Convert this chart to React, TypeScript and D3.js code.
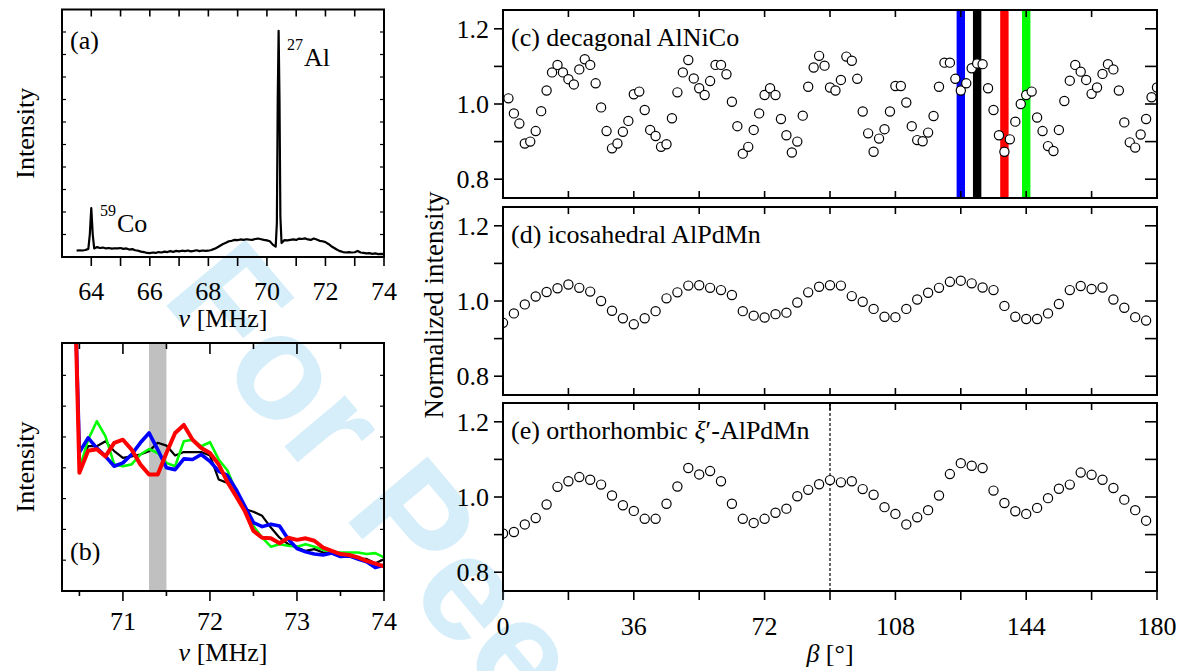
import React from 'react';
import * as d3 from 'd3';

const W = 1185, H = 671;
const FONT = "'Liberation Serif','Times New Roman',Times,serif";

// ---------- Panel (a): full spectrum ----------
const nuA = [63.5,63.6,63.7,63.8,63.9,63.95,64.0,64.05,64.1,64.2,64.3,64.4,64.5,64.6,64.7,64.8,64.9,65.0,65.1,65.2,65.3,65.4,65.5,65.6,65.7,65.8,65.9,66.0,66.1,66.2,66.3,66.4,66.5,66.6,66.7,66.8,66.9,67.0,67.1,67.2,67.3,67.4,67.5,67.6,67.7,67.8,67.9,68.0,68.1,68.2,68.3,68.4,68.5,68.6,68.7,68.8,68.9,69.0,69.1,69.2,69.3,69.4,69.5,69.6,69.7,69.8,69.9,70.0,70.1,70.2,70.3,70.34,70.37,70.4,70.43,70.46,70.5,70.6,70.7,70.8,70.9,71.0,71.1,71.2,71.3,71.4,71.5,71.6,71.7,71.8,71.9,72.0,72.1,72.2,72.3,72.4,72.5,72.6,72.7,72.8,72.9,73.0,73.1,73.2,73.3,73.4,73.5,73.6,73.7,73.8,73.9,74.0];
const intA = [0.28,0.30,0.29,0.31,0.36,1.0,2.17,1.0,0.38,0.44,0.40,0.42,0.38,0.40,0.37,0.39,0.38,0.40,0.36,0.38,0.33,0.35,0.30,0.28,0.24,0.22,0.18,0.17,0.20,0.18,0.22,0.20,0.24,0.22,0.26,0.23,0.27,0.25,0.28,0.26,0.29,0.25,0.27,0.30,0.26,0.29,0.27,0.28,0.31,0.36,0.42,0.50,0.58,0.63,0.70,0.72,0.76,0.75,0.78,0.76,0.79,0.77,0.76,0.80,0.82,0.79,0.76,0.74,0.70,0.55,0.46,1.5,7.0,10.05,7.0,1.8,0.62,0.75,0.74,0.76,0.78,0.76,0.82,0.80,0.83,0.78,0.76,0.82,0.78,0.72,0.70,0.66,0.58,0.48,0.40,0.32,0.26,0.22,0.20,0.22,0.20,0.21,0.27,0.20,0.18,0.16,0.17,0.14,0.16,0.13,0.14,0.13];
const xTicksA = [64,65,66,67,68,69,70,71,72,73,74];
const xLabelsA = [64,66,68,70,72,74];
const yTicksA = [1,2,3,4,5,6,7,8,9,10];

// ---------- Panel (b): zoomed spectra ----------
const nuB = [70.45,70.5,70.6,70.7,70.8,70.9,71.0,71.1,71.2,71.3,71.4,71.5,71.6,71.7,71.8,71.9,72.0,72.1,72.2,72.3,72.4,72.5,72.6,72.7,72.8,72.9,73.0,73.1,73.2,73.3,73.4,73.5,73.6,73.7,73.8,73.9,74.0];
const bBlack = [9.5,4.05,4.70,4.70,4.86,4.54,4.32,4.37,4.43,4.54,4.81,4.72,4.40,4.51,4.51,4.51,4.40,3.62,3.51,3.14,2.66,2.57,2.44,2.06,1.73,1.52,1.41,1.30,1.36,1.25,1.25,1.20,1.12,1.05,1.04,0.90,1.03];
const bGreen = [9.5,3.94,4.91,5.51,5.02,4.11,4.05,4.11,4.43,4.61,4.48,4.16,4.05,4.86,4.91,4.70,4.83,4.27,3.92,3.24,2.76,2.11,1.73,1.44,1.52,1.47,1.44,1.52,1.44,1.34,1.27,1.25,1.25,1.25,1.20,1.23,1.09];
const bBlue = [9.5,4.50,4.97,4.64,4.37,4.05,4.16,4.43,4.81,5.13,4.59,4.00,3.94,4.29,4.27,4.43,4.21,3.89,3.75,3.30,2.76,2.22,2.09,2.17,2.11,1.68,1.38,1.27,1.20,1.17,1.23,1.12,1.14,1.04,0.95,0.76,0.84];
const bRed = [9.5,3.84,4.55,4.60,4.37,4.81,4.91,4.59,4.11,3.78,3.78,4.48,5.13,5.39,4.91,4.64,4.48,4.11,3.54,3.08,2.60,1.95,1.73,1.71,1.55,1.73,1.66,1.71,1.63,1.41,1.30,1.20,1.17,1.09,0.98,0.89,0.80];
const bandB = [71.3, 71.5];
const xMajorB = [71,72,73,74];
const xMinorB = [70.5,71.5,72.5,73.5];
const yTicksB = [1,2,3,4,5,6,7];

// ---------- Panels (c)-(e): angular dependence ----------
const betaC = [1.5,3,4.5,6,7.5,9,10.5,12,13.5,15,16.5,18,19.5,21,22.5,24,25.5,27,28.5,30,31.5,33,34.5,36,37.5,39,40.5,42,43.5,45,46.5,48,49.5,51,52.5,54,55.5,57,58.5,60,61.5,63,64.5,66,67.5,69,70.5,72,73.5,75,76.5,78,79.5,81,82.5,84,85.5,87,88.5,90,91.5,93,94.5,96,97.5,99,100.5,102,103.5,105,106.5,108,109.5,111,112.5,114,115.5,117,118.5,120,121.5,123,124.5,126,127.5,129,130.5,132,133.5,135,136.5,138,139.5,141,142.5,144,145.5,147,148.5,150,151.5,153,154.5,156,157.5,159,160.5,162,163.5,165,166.5,168,169.5,171,172.5,174,175.5,177,178.5,180];
const valC = [1.015,0.975,0.948,0.895,0.900,0.928,0.981,1.036,1.084,1.104,1.084,1.066,1.052,1.092,1.119,1.104,1.055,0.991,0.928,0.882,0.895,0.926,0.955,1.026,1.033,0.984,0.931,0.915,0.886,0.893,0.962,1.031,1.084,1.117,1.068,1.042,1.024,1.061,1.104,1.104,1.079,1.006,0.941,0.868,0.886,0.931,0.975,1.024,1.042,1.024,0.960,0.917,0.871,0.900,0.969,1.046,1.097,1.128,1.102,1.044,1.036,1.064,1.126,1.115,1.067,0.980,0.922,0.873,0.908,0.933,0.980,1.048,1.048,1.004,0.941,0.904,0.901,0.924,0.968,1.046,1.110,1.110,1.067,1.036,1.055,1.095,1.108,1.106,1.042,0.984,0.917,0.873,0.906,0.953,1.000,1.024,1.033,0.964,0.928,0.888,0.875,0.931,1.008,1.062,1.104,1.086,1.064,1.027,1.044,1.080,1.106,1.092,1.036,0.951,0.898,0.884,0.919,0.960,1.018,1.044];
const markerBeta = [126, 130.5, 138, 144];
const markerColor = ['#0000ff', '#000000', '#ff0000', '#00ff00'];

const betaDE = [0,3,6,9,12,15,18,21,24,27,30,33,36,39,42,45,48,51,54,57,60,63,66,69,72,75,78,81,84,87,90,93,96,99,102,105,108,111,114,117,120,123,126,129,132,135,138,141,144,147,150,153,156,159,162,165,168,171,174,177];
const valD = [0.942,0.967,0.991,1.012,1.024,1.034,1.044,1.035,1.025,1.000,0.974,0.954,0.938,0.954,0.973,1.007,1.023,1.041,1.042,1.035,1.029,1.016,0.973,0.961,0.956,0.965,0.969,0.996,1.023,1.038,1.042,1.041,1.013,0.998,0.979,0.958,0.957,0.979,1.004,1.022,1.035,1.051,1.054,1.047,1.036,1.029,0.987,0.958,0.952,0.952,0.967,0.992,1.029,1.040,1.032,1.036,1.004,0.982,0.957,0.948];
const valE = [0.903,0.907,0.927,0.944,0.980,1.027,1.042,1.053,1.046,1.033,1.004,0.978,0.963,0.942,0.942,0.982,1.028,1.077,1.060,1.069,1.042,0.982,0.942,0.931,0.942,0.958,0.969,1.002,1.019,1.034,1.045,1.039,1.042,1.021,1.006,0.973,0.955,0.927,0.946,0.965,1.004,1.061,1.090,1.083,1.077,1.017,0.984,0.962,0.955,0.971,0.997,1.022,1.033,1.065,1.059,1.046,1.024,0.993,0.965,0.937];
const dashBetaE = 90;

const betaTicks = [0,18,36,54,72,90,108,126,144,162,180];
const betaLabels = [0,36,72,108,144,180];
const normTicks = [0.8,0.9,1.0,1.1,1.2];
const normLabels = ['0.8','1.0','1.2'];

// ---------- geometry ----------
const PA = { l: 62, r: 384, t: 9.5, b: 257 };
const PB = { l: 62, r: 384, t: 343, b: 591 };
const RL = 503, RR = 1157;
const PC = { t: 10, b: 198 };
const PD = { t: 207, b: 395 };
const PE = { t: 403, b: 591 };

const xA = d3.scaleLinear().domain([63, 74]).range([PA.l, PA.r]);
const yA = d3.scaleLinear().domain([0, 11]).range([PA.b, PA.t]);
const xB = d3.scaleLinear().domain([70.3, 74]).range([PB.l, PB.r]);
const yB = d3.scaleLinear().domain([0, 8.05]).range([PB.b, PB.t]);
const xBeta = d3.scaleLinear().domain([0, 180]).range([RL, RR]);
const yNorm = (p: { t: number; b: number }) => d3.scaleLinear().domain([0.75, 1.25]).range([p.b, p.t]);

const lineA = d3.line<number>().x((_, i) => xA(nuA[i])).y((d) => yA(d));
const lineB = d3.line<number>().x((_, i) => xB(nuB[i])).y((d) => yB(d));

const FS = 26;

function Watermark() {
  return (
    <svg x={0} y={0} width={W} height={H} overflow="hidden">
      <text
        x={0}
        y={0}
        transform="translate(160,298) rotate(50)"
        fontFamily="'Liberation Sans', Arial, sans-serif"
        fontWeight="bold"
        fontSize={150}
        fill="#d6eefa"
      >
        For Peer
      </text>
    </svg>
  );
}

function PanelA() {
  return (
    <g>
      <defs>
        <clipPath id="clipA"><rect x={PA.l} y={PA.t} width={PA.r - PA.l} height={PA.b - PA.t} /></clipPath>
      </defs>
      <path d={lineA(intA) || ''} fill="none" stroke="#000" strokeWidth={2.2} strokeLinejoin="round" clipPath="url(#clipA)" />
      {xTicksA.map((t) => (
        <g key={t}>
          <line x1={xA(t)} x2={xA(t)} y1={PA.b} y2={PA.b + 9} stroke="#000" strokeWidth={1.6} />
          <line x1={xA(t)} x2={xA(t)} y1={PA.t} y2={PA.t + 7} stroke="#000" strokeWidth={1.6} />
        </g>
      ))}
      {yTicksA.map((t) => (
        <g key={t}>
          <line x1={PA.l} x2={PA.l + 4} y1={yA(t)} y2={yA(t)} stroke="#000" strokeWidth={1.2} />
          <line x1={PA.r - 4} x2={PA.r} y1={yA(t)} y2={yA(t)} stroke="#000" strokeWidth={1.2} />
        </g>
      ))}
      {xLabelsA.map((t) => (
        <text key={t} x={xA(t)} y={300} textAnchor="middle" fontSize={FS}>{t}</text>
      ))}
      <rect x={PA.l} y={PA.t} width={PA.r - PA.l} height={PA.b - PA.t} fill="none" stroke="#000" strokeWidth={2} />
      <text x={70} y={49} fontSize={FS}>(a)</text>
      <text x={100} y={216} fontSize={16}>59</text>
      <text x={117} y={232} fontSize={FS}>Co</text>
      <text x={287} y={50} fontSize={16}>27</text>
      <text x={304} y={66} fontSize={FS}>Al</text>
      <text transform={`translate(34,${(PA.t + PA.b) / 2}) rotate(-90)`} textAnchor="middle" fontSize={FS}>Intensity</text>
      <text x={(PA.l + PA.r) / 2} y={327} textAnchor="middle" fontSize={FS}>
        <tspan fontStyle="italic">ν</tspan> [MHz]
      </text>
    </g>
  );
}

function PanelB() {
  const series = [
    { v: bBlack, c: '#000000', w: 2.2 },
    { v: bGreen, c: '#00ff00', w: 2.6 },
    { v: bBlue, c: '#0000ff', w: 3.6 },
    { v: bRed, c: '#ff0000', w: 4 },
  ];
  return (
    <g>
      <defs>
        <clipPath id="clipB"><rect x={PB.l} y={PB.t} width={PB.r - PB.l} height={PB.b - PB.t} /></clipPath>
      </defs>
      <rect x={xB(bandB[0])} y={PB.t} width={xB(bandB[1]) - xB(bandB[0])} height={PB.b - PB.t} fill="#c0c0c0" />
      <g clipPath="url(#clipB)">
        {series.map((s, i) => (
          <path key={i} d={lineB(s.v) || ''} fill="none" stroke={s.c} strokeWidth={s.w} strokeLinejoin="round" />
        ))}
      </g>
      {xMajorB.map((t) => (
        <g key={t}>
          <line x1={xB(t)} x2={xB(t)} y1={PB.b} y2={PB.b + 10} stroke="#000" strokeWidth={1.6} />
          <line x1={xB(t)} x2={xB(t)} y1={PB.t} y2={PB.t + 11} stroke="#000" strokeWidth={1.6} />
          <text x={xB(t)} y={630} textAnchor="middle" fontSize={FS}>{t}</text>
        </g>
      ))}
      {xMinorB.map((t) => (
        <g key={t}>
          <line x1={xB(t)} x2={xB(t)} y1={PB.b} y2={PB.b + 5} stroke="#000" strokeWidth={1.6} />
          <line x1={xB(t)} x2={xB(t)} y1={PB.t} y2={PB.t + 6} stroke="#000" strokeWidth={1.6} />
        </g>
      ))}
      {yTicksB.map((t) => (
        <g key={t}>
          <line x1={PB.l} x2={PB.l + 4} y1={yB(t)} y2={yB(t)} stroke="#000" strokeWidth={1.2} />
          <line x1={PB.r - 4} x2={PB.r} y1={yB(t)} y2={yB(t)} stroke="#000" strokeWidth={1.2} />
        </g>
      ))}
      <rect x={PB.l} y={PB.t} width={PB.r - PB.l} height={PB.b - PB.t} fill="none" stroke="#000" strokeWidth={2} />
      <text x={70} y={560} fontSize={FS}>(b)</text>
      <text transform={`translate(34,${(PB.t + PB.b) / 2}) rotate(-90)`} textAnchor="middle" fontSize={FS}>Intensity</text>
      <text x={(PB.l + PB.r) / 2} y={661} textAnchor="middle" fontSize={FS}>
        <tspan fontStyle="italic">ν</tspan> [MHz]
      </text>
    </g>
  );
}

function AngPanel(props: {
  id: string; p: { t: number; b: number }; betas: number[]; vals: number[];
  title: React.ReactNode; bottomOut: boolean; extra?: React.ReactNode;
}) {
  const { id, p, betas, vals, title, bottomOut, extra } = props;
  const y = yNorm(p);
  return (
    <g>
      <defs>
        <clipPath id={id}><rect x={RL} y={p.t} width={RR - RL} height={p.b - p.t} /></clipPath>
      </defs>
      <g clipPath={`url(#${id})`}>
        {extra}
        {betas.map((b, i) => (
          <circle key={i} cx={xBeta(b)} cy={y(vals[i])} r={4.6} fill="#fff" stroke="#000" strokeWidth={1.2} />
        ))}
      </g>
      {betaTicks.map((t) => (
        <g key={t}>
          <line x1={xBeta(t)} x2={xBeta(t)} y1={p.t} y2={p.t + 7} stroke="#000" strokeWidth={1.6} />
          {bottomOut ? (
            <line x1={xBeta(t)} x2={xBeta(t)} y1={p.b} y2={p.b + 9} stroke="#000" strokeWidth={1.6} />
          ) : (
            <line x1={xBeta(t)} x2={xBeta(t)} y1={p.b - 7} y2={p.b} stroke="#000" strokeWidth={1.6} />
          )}
        </g>
      ))}
      {normTicks.map((t) => (
        <g key={t}>
          <line x1={RL - 9} x2={RL} y1={y(t)} y2={y(t)} stroke="#000" strokeWidth={1.6} />
          <line x1={RR - 12} x2={RR} y1={y(t)} y2={y(t)} stroke="#000" strokeWidth={1.6} />
        </g>
      ))}
      {normLabels.map((t) => (
        <text key={t} x={489} y={y(+t)} dy="0.35em" textAnchor="end" fontSize={FS}>{t}</text>
      ))}
      <rect x={RL} y={p.t} width={RR - RL} height={p.b - p.t} fill="none" stroke="#000" strokeWidth={2} />
      <text x={511} y={p.t + 36} fontSize={FS}>{title}</text>
    </g>
  );
}

export default function App() {
  const markers = markerBeta.map((b, i) => (
    <rect key={i} x={xBeta(b) - 4.2} y={PC.t} width={8.4} height={PC.b - PC.t} fill={markerColor[i]} />
  ));
  const dash = (
    <line x1={xBeta(dashBetaE)} x2={xBeta(dashBetaE)} y1={PE.t} y2={PE.b} stroke="#000" strokeWidth={1.2} strokeDasharray="3,2" />
  );
  return (
    <svg width={W} height={H} style={{ position: 'absolute', left: 0, top: 0, background: '#fff' }} fontFamily={FONT}>
      <rect x={0} y={0} width={W} height={H} fill="#fff" />
      <Watermark />
      <PanelA />
      <PanelB />
      <AngPanel id="clipC" p={PC} betas={betaC} vals={valC} bottomOut={false} extra={markers}
        title={<>(c) decagonal AlNiCo</>} />
      <AngPanel id="clipD" p={PD} betas={betaDE} vals={valD} bottomOut={false}
        title={<>(d) icosahedral AlPdMn</>} />
      <AngPanel id="clipE" p={PE} betas={betaDE} vals={valE} bottomOut={true} extra={dash}
        title={<>(e) orthorhombic <tspan fontStyle="italic">ξ</tspan>′-AlPdMn</>} />
      {betaLabels.map((t) => (
        <text key={t} x={xBeta(t)} y={635} textAnchor="middle" fontSize={FS}>{t}</text>
      ))}
      <text x={(RL + RR) / 2} y={662} textAnchor="middle" fontSize={FS}>
        <tspan fontStyle="italic">β</tspan> [°]
      </text>
      <text transform={`translate(443,305) rotate(-90)`} textAnchor="middle" fontSize={27}>Normalized intensity</text>
    </svg>
  );
}
